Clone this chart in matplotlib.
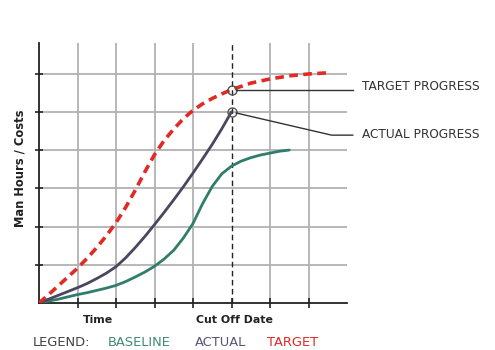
import matplotlib.pyplot as plt

# Données (x = pas de temps, y = heures / coûts)
target_x = [0, 0.25, 0.5, 0.75, 1, 1.25, 1.5, 1.75, 2, 2.25, 2.5, 2.75, 3, 3.25, 3.5, 3.75,
            4, 4.25, 4.5, 4.75, 5, 5.5, 6, 6.5, 7, 7.5]
target_y = [0, 0.22, 0.45, 0.68, 0.91, 1.17, 1.45, 1.76, 2.1, 2.5, 2.95, 3.43, 3.88, 4.25, 4.55, 4.82,
            5.04, 5.21, 5.35, 5.47, 5.58, 5.75, 5.86, 5.94, 5.99, 6.02]

actual_x = [0, 0.25, 0.5, 0.75, 1, 1.25, 1.5, 1.75, 2, 2.25, 2.5, 2.75, 3, 3.25, 3.5, 3.75,
            4, 4.25, 4.5, 4.75, 5]
actual_y = [0, 0.1, 0.2, 0.3, 0.4, 0.51, 0.64, 0.78, 0.95, 1.18, 1.45, 1.74, 2.05, 2.37, 2.7, 3.04,
            3.4, 3.77, 4.15, 4.56, 5.0]

baseline_x = [0, 0.25, 0.5, 0.75, 1, 1.25, 1.5, 1.75, 2, 2.25, 2.5, 2.75, 3, 3.25, 3.5, 3.75,
              4, 4.25, 4.5, 4.75, 5, 5.25, 5.5, 5.75, 6, 6.25, 6.5]
baseline_y = [0, 0.05, 0.1, 0.16, 0.22, 0.27, 0.33, 0.39, 0.46, 0.56, 0.68, 0.81, 0.96, 1.15, 1.38, 1.7,
              2.08, 2.6, 3.05, 3.38, 3.58, 3.71, 3.8, 3.87, 3.92, 3.97, 4.0]

grid_x = [1, 2, 3, 4, 5, 6, 7]
grid_y = [1, 2, 3, 4, 5, 6]
cutoff = 5

RED = '#e02a26'
PURPLE = '#4a4660'
TEAL = '#2f7d6a'
W, H = 495, 350


def fx(px):
    return px / W


def fy(py):
    return 1 - py / H


fig = plt.figure(figsize=(4.95, 3.5), dpi=100)
ax = fig.add_axes([fx(39), fy(303), (347 - 39) / W, (303 - 43) / H])
ax.set_xlim(0, 8)
ax.set_ylim(0, 6.8)

# grille
for gx in grid_x:
    if gx != cutoff:
        ax.axvline(gx, color='#b2b2b2', lw=1.3, zorder=1)
for gy in grid_y:
    ax.axhline(gy, color='#b2b2b2', lw=1.3, zorder=1)
ax.axvline(cutoff, color='#222222', lw=1.0, ls=(0, (4, 2.5)), zorder=2)

# courbes
ax.plot(baseline_x, baseline_y, color=TEAL, lw=2.0, zorder=3, solid_capstyle='round')
ax.plot(actual_x, actual_y, color=PURPLE, lw=2.0, zorder=3, solid_capstyle='round')
ax.plot(target_x, target_y, color=RED, lw=2.6, ls=(0, (2.4, 1.5)), zorder=4)

# points d'avancement + renvois
t_pt = target_y[target_x.index(cutoff)]
a_pt = actual_y[-1]
ax.plot([cutoff], [t_pt], 'o', ms=6.5, mfc='none', mec='#555555', mew=1.0, zorder=5)
ax.plot([cutoff], [a_pt], 'o', ms=6.5, mfc='none', mec='#555555', mew=1.0, zorder=5)
ax.plot([cutoff + 0.12, 8.15], [t_pt, t_pt], color='#333333', lw=1.0, clip_on=False, zorder=5)
ax.plot([cutoff + 0.12, 7.6, 8.15], [a_pt - 0.03, 4.39, 4.39], color='#333333', lw=1.0, clip_on=False, zorder=5)
fig.text(fx(362), fy(87), 'TARGET PROGRESS', fontsize=8.7, color='#333333', va='center')
fig.text(fx(362), fy(135), 'ACTUAL PROGRESS', fontsize=8.7, color='#333333', va='center')

# axes
for s in ['top', 'right']:
    ax.spines[s].set_visible(False)
ax.spines['left'].set_color('#222222')
ax.spines['bottom'].set_color('#222222')
ax.spines['left'].set_linewidth(1.3)
ax.spines['bottom'].set_linewidth(1.3)
ax.set_xticks(grid_x)
ax.set_yticks(grid_y)
ax.set_xticklabels([])
ax.set_yticklabels([])
ax.tick_params(axis='x', direction='inout', length=7, width=1.2, color='#222222')
ax.tick_params(axis='y', direction='inout', length=6, width=1.2, color='#222222')

# textes
fig.text(fx(20), fy(168), 'Man Hours / Costs', rotation=90, fontsize=8.3, fontweight='bold',
         ha='center', va='center', color='#222222')
fig.text(fx(98), fy(320), 'Time', fontsize=7.9, fontweight='bold', ha='center', va='center', color='#222222')
fig.text(fx(234), fy(320), 'Cut Off Date', fontsize=7.9, fontweight='bold', ha='center', va='center', color='#222222')

fig.text(fx(33), fy(342), 'LEGEND:', fontsize=9.4, color='#444444', va='center')
fig.text(fx(108), fy(342), 'BASELINE', fontsize=9.4, color='#3f8a78', va='center')
fig.text(fx(195), fy(342), 'ACTUAL', fontsize=9.4, color='#5a5670', va='center')
fig.text(fx(267), fy(342), 'TARGET', fontsize=9.4, color=RED, va='center')

fig.savefig('out.png', dpi=100)
